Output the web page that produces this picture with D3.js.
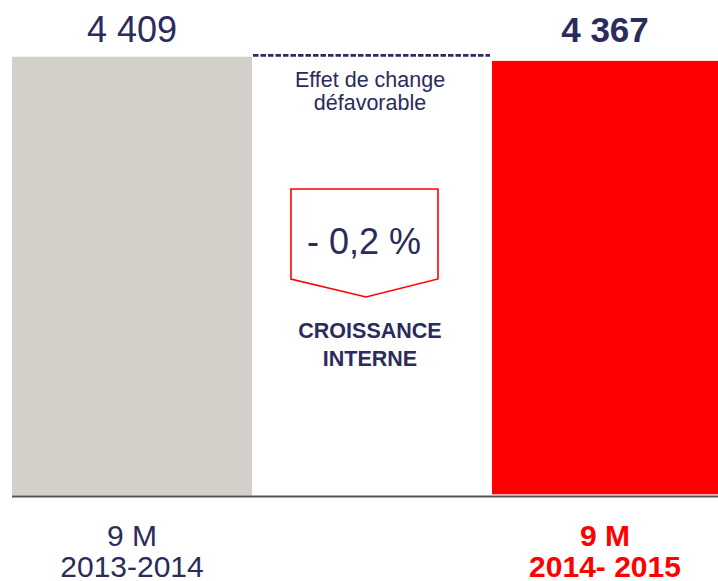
<!DOCTYPE html>
<html>
<head>
<meta charset="utf-8">
<title>Croissance interne</title>
<script src="https://cdnjs.cloudflare.com/ajax/libs/d3/7.8.5/d3.min.js"></script>
<style>
body { margin: 0; background: #fff; }
svg { font-family: "Liberation Sans", Arial, sans-serif; }
</style>
</head>
<body>
<script>
// data
var categories = ["2013", "fx", "2015"];
var barValues = [4409, null, 4367];
var valueLabels = ["4 409", "", "4 367"];
var fxStep = [4409, 4437];            // thin hatched bridge segment
var periodLines = [["9 M", "2013-2014"], [], ["9 M", "2014- 2015"]];
var bridgeText = ["Effet de change", "défavorable"];
var growthLabel = "- 0,2 %";
var growthText = ["CROISSANCE", "INTERNE"];

var W = 718, H = 581;
var navy = "#2b2b5c";

var svg = d3.select("body").append("svg")
    .attr("width", W)
    .attr("height", H);

var x = d3.scaleBand()
    .domain(categories)
    .range([12, 732])
    .padding(0);

var y = d3.scaleLinear()
    .domain([0, 4409])
    .range([495.5, 56.7]);

// bars
var bars = categories.map(function(c, i) { return {c: c, v: barValues[i], i: i}; })
    .filter(function(d) { return d.v != null; });

svg.selectAll("rect.bar")
    .data(bars)
    .enter().append("rect")
    .attr("class", "bar")
    .attr("x", function(d) { return x(d.c); })
    .attr("y", function(d) { return y(d.v); })
    .attr("width", x.bandwidth())
    .attr("height", function(d) { return y(0) - y(d.v) - (d.i == 2 ? 1.2 : 0); })
    .attr("fill", function(d) { return d.i == 2 ? "#ff0000" : "#d3d0c9"; });

// baseline
svg.append("line")
    .attr("x1", 12).attr("x2", W)
    .attr("y1", y(0) + 1).attr("y2", y(0) + 1)
    .attr("stroke", "#555")
    .attr("stroke-width", 1.8);

// hatched fx segment
var fy = (y(fxStep[0]) + y(fxStep[1])) / 2;
svg.append("line")
    .attr("x1", x("fx") + 1)
    .attr("x2", x("fx") + x.bandwidth() - 2)
    .attr("y1", fy).attr("y2", fy)
    .attr("stroke", navy)
    .attr("stroke-width", y(fxStep[0]) - y(fxStep[1]))
    .attr("stroke-dasharray", "5.5,2");

// value labels
svg.selectAll("text.val")
    .data(bars)
    .enter().append("text")
    .attr("class", "val")
    .attr("x", function(d) { return x(d.c) + (d.i == 2 ? 113 : x.bandwidth() / 2); })
    .attr("y", 42)
    .attr("text-anchor", "middle")
    .attr("font-size", function(d) { return d.i == 2 ? 35 : 36; })
    .attr("font-weight", function(d) { return d.i == 2 ? "bold" : "normal"; })
    .attr("fill", navy)
    .text(function(d) { return valueLabels[d.i]; });

// period labels
categories.forEach(function(c, i) {
    var lines = periodLines[i];
    if (!lines.length) return;
    var t = svg.append("text")
        .attr("text-anchor", "middle")
        .attr("font-size", 30)
        .attr("font-weight", i == 2 ? "bold" : "normal")
        .attr("fill", i == 2 ? "#ff0000" : navy);
    lines.forEach(function(s, k) {
        t.append("tspan")
            .attr("x", x(c) + (i == 2 ? 113 : x.bandwidth() / 2))
            .attr("y", 546 + k * 30.5)
            .text(s);
    });
});

// bridge annotation
var cx = x("fx") + x.bandwidth() / 2 - 2;
var bt = svg.append("text")
    .attr("text-anchor", "middle")
    .attr("font-size", 21.5)
    .attr("fill", navy);
bridgeText.forEach(function(s, k) {
    bt.append("tspan").attr("x", cx).attr("y", 87 + k * 23).text(s);
});

// pentagon arrow box
svg.append("path")
    .attr("d", "M291,189 L438,189 L438,279 L366,297 L291,279 Z")
    .attr("fill", "#fff")
    .attr("stroke", "#ff0000")
    .attr("stroke-width", 1.6);

svg.append("text")
    .attr("x", 364)
    .attr("y", 254)
    .attr("text-anchor", "middle")
    .attr("font-size", 36)
    .attr("fill", navy)
    .text(growthLabel);

var gt = svg.append("text")
    .attr("text-anchor", "middle")
    .attr("font-size", 21.5)
    .attr("font-weight", "bold")
    .attr("fill", navy);
growthText.forEach(function(s, k) {
    gt.append("tspan").attr("x", 370).attr("y", 338 + k * 28).text(s);
});
</script>
</body>
</html>
